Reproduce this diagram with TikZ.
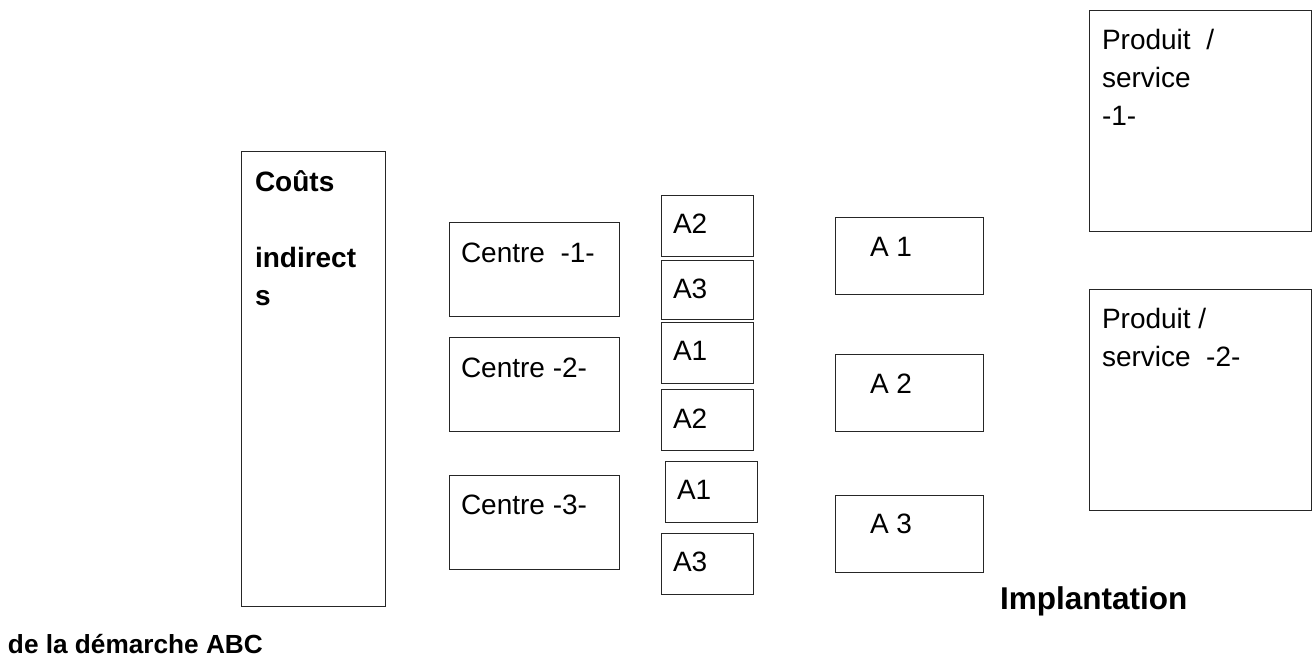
\documentclass[tikz,border=0pt]{standalone}
\usepackage{fontspec}
\setmainfont{Liberation Sans}
\newcommand\txtreg{\fontsize{28}{38}\selectfont}
\newcommand\txtbold{\fontsize{28}{38}\selectfont\bfseries}
\begin{document}
\begin{tikzpicture}[x=1pt,y=-1pt,
  box/.style={draw=black!85,line width=0.9pt,inner sep=0pt,outer sep=0pt,anchor=north west},
  lbl/.style={inner sep=0pt,outer sep=0pt,anchor=base west,font=\txtreg},
  mlbl/.style={inner sep=0pt,outer sep=0pt,anchor=north west,align=left,font=\txtreg}]
\useasboundingbox (0,0) rectangle (1316,657);
% boxes
\node[box,minimum width=144pt,minimum height=455pt] (costs) at (241,151) {};
\node[box,minimum width=170pt,minimum height=94pt] (c1) at (449,222) {};
\node[box,minimum width=170pt,minimum height=94pt] (c2) at (449,337) {};
\node[box,minimum width=170pt,minimum height=94pt] (c3) at (449,475) {};
\node[box,minimum width=92pt,minimum height=61pt] (s1) at (661,195) {};
\node[box,minimum width=92pt,minimum height=59pt] (s2) at (661,260) {};
\node[box,minimum width=92pt,minimum height=61pt] (s3) at (661,322) {};
\node[box,minimum width=92pt,minimum height=61pt] (s4) at (661,389) {};
\node[box,minimum width=92pt,minimum height=61pt] (s5) at (665,461) {};
\node[box,minimum width=92pt,minimum height=61pt] (s6) at (661,533) {};
\node[box,minimum width=148pt,minimum height=77pt] (a1) at (835,217) {};
\node[box,minimum width=148pt,minimum height=77pt] (a2) at (835,354) {};
\node[box,minimum width=148pt,minimum height=77pt] (a3) at (835,495) {};
\node[box,minimum width=222pt,minimum height=221pt] (p1) at (1089,10) {};
\node[box,minimum width=222pt,minimum height=221pt] (p2) at (1089,289) {};
% texts
\node[mlbl,font=\txtbold] (tcosts) at (255,164.4) {\strut Coûts\\[0pt]\\indirect\\s};
\node[lbl] (tc1) at (461,262) {Centre\ \ -1-};
\node[lbl] (tc2) at (461,377) {Centre -2-};
\node[lbl] (tc3) at (461,514) {Centre -3-};
\node[lbl] (ts1) at (673,233) {A2};
\node[lbl] (ts2) at (673,298) {A3};
\node[lbl] (ts3) at (673,360) {A1};
\node[lbl] (ts4) at (673,428) {A2};
\node[lbl] (ts5) at (677,499) {A1};
\node[lbl] (ts6) at (673,571) {A3};
\node[lbl] (ta1) at (870,256) {A 1};
\node[lbl] (ta2) at (870,393) {A 2};
\node[lbl] (ta3) at (870,533) {A 3};
\node[mlbl] (tp1) at (1102,22.4) {\strut Produit\ \ /\\service\\-1-};
\node[mlbl] (tp2) at (1102,301.4) {\strut Produit /\\service\ \ -2-};
\node[lbl,font=\fontsize{31.5}{38}\selectfont\bfseries] (timpl) at (1000,609) {Implantation};
\node[lbl,font=\fontsize{26.2}{36}\selectfont\bfseries] (tabc) at (8,653) {de la démarche ABC};
\end{tikzpicture}
\end{document}
